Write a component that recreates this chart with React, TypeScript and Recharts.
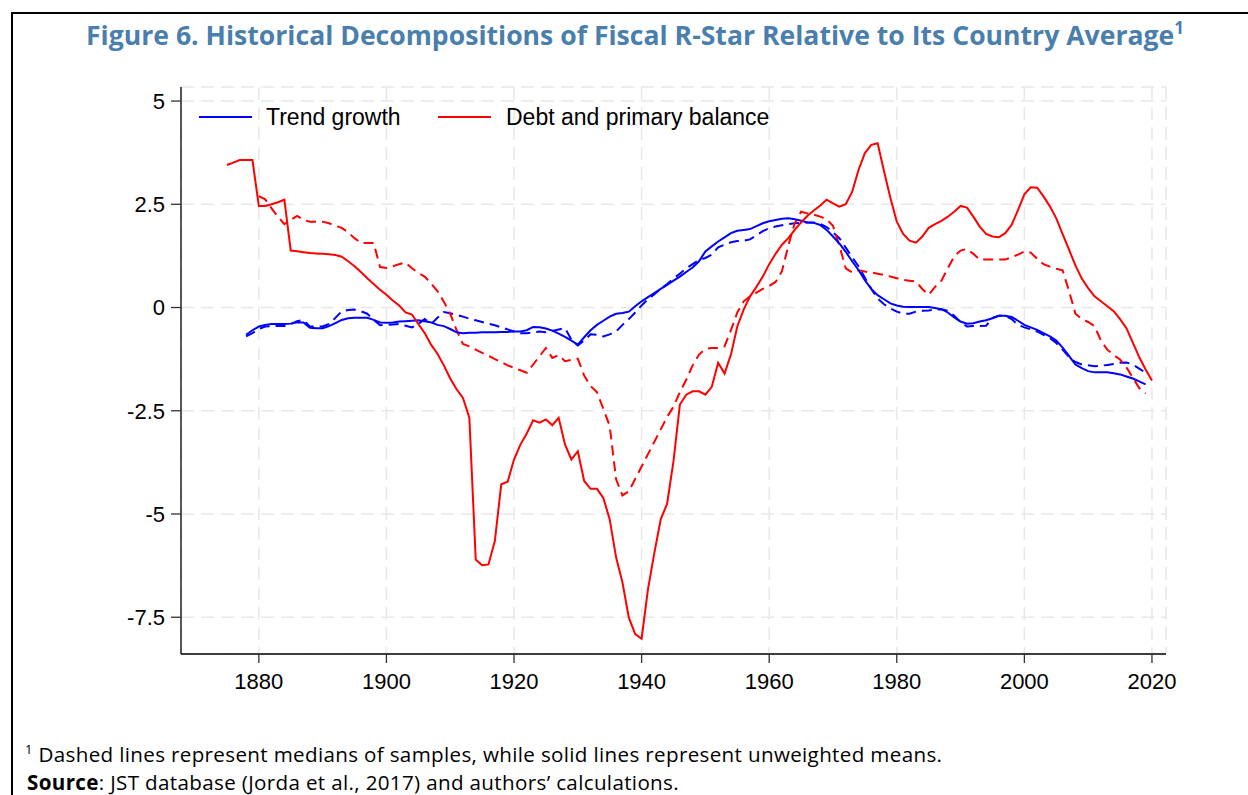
import React from 'react';
import { LineChart, Line, XAxis, YAxis, CartesianGrid, Legend } from 'recharts';

const debtMeanStart = 1875;
const debtMean = [
  3.45, 3.51, 3.57, 3.57, 3.57, 2.46, 2.46, 2.5, 2.55, 2.61,
  1.38, 1.36, 1.34, 1.32, 1.31, 1.3, 1.29, 1.27, 1.23, 1.12,
  1.0, 0.86, 0.71, 0.57, 0.43, 0.31, 0.17, 0.05, -0.12, -0.17,
  -0.4, -0.62, -0.9, -1.12, -1.4, -1.72, -1.98, -2.19, -2.67, -6.1,
  -6.24, -6.22, -5.65, -4.28, -4.22, -3.68, -3.32, -3.05, -2.73, -2.79,
  -2.71, -2.85, -2.67, -3.32, -3.68, -3.48, -4.2, -4.39, -4.39, -4.61,
  -5.13, -6.05, -6.66, -7.51, -7.91, -8.02, -6.82, -5.94, -5.13, -4.75,
  -3.72, -2.35, -2.11, -2.03, -2.03, -2.11, -1.92, -1.34, -1.6, -1.14,
  -0.46, -0.05, 0.27, 0.5, 0.75, 1.05, 1.3, 1.52, 1.68, 1.88,
  2.06, 2.22, 2.35, 2.47, 2.61, 2.52, 2.44, 2.5, 2.8, 3.33,
  3.74, 3.94, 3.98, 3.3, 2.65, 2.08, 1.78, 1.62, 1.57, 1.72,
  1.93, 2.02, 2.1, 2.2, 2.32, 2.46, 2.42, 2.2, 1.96, 1.78,
  1.72, 1.7, 1.8, 2.0, 2.36, 2.74, 2.91, 2.9, 2.69, 2.45,
  2.16, 1.78, 1.4, 1.02, 0.7, 0.47, 0.27, 0.15, 0.03, -0.09,
  -0.28, -0.5, -0.85, -1.2, -1.5, -1.77,
];

const debtMedianStart = 1880;
const debtMedian = [
  2.7, 2.62, 2.4, 2.2, 2.02, 2.12, 2.22, 2.12, 2.08, 2.08,
  2.08, 2.04, 1.98, 1.93, 1.82, 1.68, 1.56, 1.56, 1.56, 0.98,
  0.96, 1.0, 1.05, 1.09, 0.95, 0.84, 0.75, 0.58, 0.4, 0.14,
  -0.15, -0.55, -0.88, -0.94, -1.02, -1.1, -1.17, -1.25, -1.32, -1.4,
  -1.46, -1.52, -1.58, -1.38, -1.18, -0.98, -1.22, -1.15, -1.3, -1.27,
  -1.24, -1.65, -1.9, -2.05, -2.45, -2.87, -4.16, -4.55, -4.45, -4.15,
  -3.85, -3.55, -3.25, -2.95, -2.65, -2.4, -2.05, -1.75, -1.4, -1.14,
  -1.0, -0.98, -0.98, -0.94, -0.55, -0.12, 0.15, 0.27, 0.36, 0.45,
  0.52, 0.62, 0.88, 1.5, 2.04, 2.32, 2.28, 2.25, 2.2, 2.14,
  1.98, 1.5, 0.95, 0.85, 0.9, 0.87, 0.85, 0.82, 0.79, 0.75,
  0.71, 0.67, 0.65, 0.63, 0.45, 0.31, 0.5, 0.65, 0.95, 1.24,
  1.38, 1.42, 1.3, 1.16, 1.16, 1.16, 1.16, 1.16, 1.22, 1.28,
  1.36, 1.33, 1.18, 1.05, 0.99, 0.94, 0.9, 0.4, -0.15, -0.28,
  -0.35, -0.45, -0.8, -1.02, -1.15, -1.26, -1.45, -1.7, -1.95, -2.08,
];

const trendMeanStart = 1878;
const trendMean = [
  -0.66, -0.55, -0.46, -0.42, -0.4, -0.4, -0.4, -0.39, -0.36, -0.36,
  -0.49, -0.5, -0.5, -0.45, -0.38, -0.3, -0.26, -0.25, -0.25, -0.25,
  -0.3, -0.36, -0.37, -0.36, -0.34, -0.33, -0.32, -0.31, -0.33, -0.36,
  -0.42, -0.45, -0.52, -0.6, -0.62, -0.61, -0.61, -0.6, -0.6, -0.6,
  -0.59, -0.59, -0.58, -0.58, -0.55, -0.47, -0.48, -0.51, -0.56, -0.63,
  -0.71, -0.8, -0.9, -0.72, -0.55, -0.42, -0.32, -0.22, -0.15, -0.13,
  -0.1, 0.03, 0.15, 0.25, 0.35, 0.45, 0.55, 0.65, 0.75, 0.86,
  0.97, 1.12, 1.36, 1.48, 1.6, 1.7, 1.8, 1.86, 1.88, 1.9,
  1.97, 2.04, 2.09, 2.12, 2.15, 2.16, 2.14, 2.1, 2.06, 2.05,
  2.0, 1.88, 1.72, 1.55, 1.35, 1.12, 0.91, 0.66, 0.45, 0.3,
  0.2, 0.1, 0.05, 0.02, 0.01, 0.01, 0.01, 0.01, -0.01, -0.04,
  -0.12, -0.24, -0.34, -0.39, -0.38, -0.34, -0.31, -0.26, -0.2, -0.2,
  -0.23, -0.32, -0.42, -0.48, -0.54, -0.62, -0.7, -0.8, -0.97, -1.17,
  -1.38, -1.47, -1.54, -1.57, -1.57, -1.57, -1.59, -1.62, -1.67, -1.72,
  -1.79, -1.86,
];

const trendMedianStart = 1878;
const trendMedian = [
  -0.7, -0.62, -0.52, -0.46, -0.45, -0.45, -0.45, -0.4, -0.33, -0.3,
  -0.46, -0.46, -0.46, -0.4, -0.25, -0.09, -0.06, -0.05, -0.09, -0.15,
  -0.3, -0.43, -0.42, -0.41, -0.4, -0.44, -0.48, -0.4, -0.28, -0.4,
  -0.25, -0.11, -0.14, -0.18, -0.22, -0.27, -0.31, -0.35, -0.39, -0.43,
  -0.48, -0.53, -0.58, -0.62, -0.62, -0.6, -0.58, -0.6, -0.57, -0.53,
  -0.5, -0.78, -0.92, -0.8, -0.65, -0.66, -0.7, -0.65, -0.58, -0.42,
  -0.28, -0.12, 0.05, 0.2, 0.32, 0.45, 0.57, 0.7, 0.82, 0.95,
  1.05, 1.15, 1.2, 1.28, 1.46, 1.52, 1.58, 1.61, 1.62, 1.65,
  1.75, 1.85, 1.92, 1.96, 1.99, 2.02, 2.04, 2.05, 2.06, 2.06,
  2.03, 1.95, 1.82, 1.68, 1.45, 1.22, 1.0, 0.72, 0.45, 0.22,
  0.08, -0.02, -0.1, -0.15, -0.15, -0.1, -0.08, -0.07, -0.05, -0.04,
  -0.08, -0.2, -0.35, -0.46, -0.45, -0.45, -0.44, -0.25, -0.2, -0.2,
  -0.28, -0.42, -0.48, -0.53, -0.58, -0.66, -0.74, -0.86, -1.02, -1.2,
  -1.32, -1.38, -1.4, -1.42, -1.41, -1.39, -1.37, -1.34, -1.33, -1.38,
  -1.48, -1.58,
];

const xTicks = [1880, 1900, 1920, 1940, 1960, 1980, 2000, 2020];
const yTicks = [-7.5, -5, -2.5, 0, 2.5, 5];

const firstYear = 1875;
const lastYear = 2020;

function pick(arr: number[], start: number, year: number): number | null {
  const i = year - start;
  return i >= 0 && i < arr.length ? arr[i] : null;
}

const table: any[] = [];
for (let y = firstYear; y <= lastYear; y++) {
  table.push({
    year: y,
    debtMean: pick(debtMean, debtMeanStart, y),
    debtMedian: pick(debtMedian, debtMedianStart, y),
    trendMean: pick(trendMean, trendMeanStart, y),
    trendMedian: pick(trendMedian, trendMedianStart, y),
  });
}

const BLUE = '#0000ff';
const RED = '#ff0000';
const AX = '"Liberation Sans", Arial, sans-serif';
const HUM = '"Open Sans", "Noto Sans", sans-serif';

const LegendBox = () => (
  <div style={{ position: 'relative', width: 1248, height: 40, fontFamily: AX, fontSize: 23, color: '#000' }}>
    <div style={{ position: 'absolute', left: 199, top: 16, width: 53, height: 2, background: BLUE }} />
    <div style={{ position: 'absolute', left: 266, top: 3, lineHeight: '28px', whiteSpace: 'nowrap' }}>Trend growth</div>
    <div style={{ position: 'absolute', left: 438, top: 16, width: 53, height: 2, background: RED }} />
    <div style={{ position: 'absolute', left: 506, top: 3, lineHeight: '28px', whiteSpace: 'nowrap' }}>Debt and primary balance</div>
  </div>
);

export default function App() {
  return (
    <div style={{ position: 'absolute', left: 0, top: 0, width: 1248, height: 795, background: '#fff', overflow: 'hidden' }}>
      <div style={{ position: 'absolute', left: 11, top: 12, width: 1300, height: 850, border: '2px solid #000', boxSizing: 'border-box' }} />
      <svg width={1248} height={795} style={{ position: 'absolute', left: 0, top: 0 }}>
        <text x={635} y={45} textAnchor="middle" fontFamily={HUM} fontWeight={700} fontSize={26.6} fill="#4a7fad">
          Figure 6. Historical Decompositions of Fiscal R-Star Relative to Its Country Average
          <tspan fontSize={17} dy={-11}>1</tspan>
        </text>
        <text x={25} y={762} fontFamily={HUM} fontSize={20.6} letterSpacing={0.34} fill="#000">
          <tspan fontSize={13} dy={-8}>1</tspan>
          <tspan dy={8}> Dashed lines represent medians of samples, while solid lines represent unweighted means.</tspan>
        </text>
        <text x={27} y={790} fontFamily={HUM} fontSize={20.6} letterSpacing={0.34} fill="#000">
          <tspan fontWeight={700}>Source</tspan>
          <tspan>: JST database (Jorda et al., 2017) and authors’ calculations.</tspan>
        </text>
      </svg>
      <div style={{ position: 'absolute', left: 0, top: 0 }}>
        <LineChart width={1248} height={795} data={table} margin={{ top: 87, right: 82, bottom: 111, left: 101 }}>
          <CartesianGrid stroke="#e8e8e8" strokeWidth={1.5} strokeDasharray="13 7" />
          <XAxis
            dataKey="year"
            type="number"
            domain={[1867.8, 2022.2]}
            allowDataOverflow
            ticks={xTicks}
            height={30}
            tickSize={9}
            tickMargin={10}
            stroke="#000"
            strokeWidth={1.3}
            tick={{ fill: '#000', fontSize: 22, fontFamily: AX }}
            tickLine={{ stroke: '#333' }}
          />
          <YAxis
            type="number"
            domain={[-8.39, 5.34]}
            allowDataOverflow
            ticks={yTicks}
            width={80}
            tickSize={10}
            tickMargin={6}
            stroke="#000"
            strokeWidth={1.3}
            tick={{ fill: '#000', fontSize: 22, fontFamily: AX }}
            tickLine={{ stroke: '#333' }}
          />
          <Legend
            layout="horizontal"
            verticalAlign="middle"
            align="center"
            wrapperStyle={{ left: 0, top: 100, width: 1248, height: 40 }}
            content={() => <LegendBox />}
          />
          <Line dataKey="trendMedian" stroke={BLUE} strokeWidth={2} strokeDasharray="10 6" dot={false} isAnimationActive={false} />
          <Line dataKey="debtMedian" stroke={RED} strokeWidth={2} strokeDasharray="10 6" dot={false} isAnimationActive={false} />
          <Line dataKey="trendMean" stroke={BLUE} strokeWidth={2} dot={false} isAnimationActive={false} />
          <Line dataKey="debtMean" stroke={RED} strokeWidth={2} dot={false} isAnimationActive={false} />
        </LineChart>
      </div>
    </div>
  );
}
